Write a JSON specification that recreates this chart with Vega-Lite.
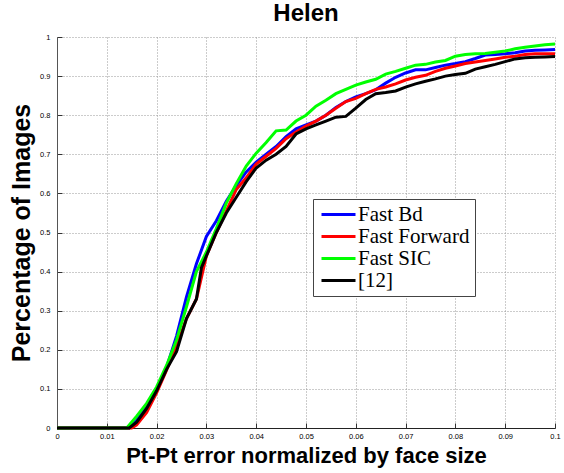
{
  "$schema": "https://vega.github.io/schema/vega-lite/v6.json",
  "width": 498,
  "height": 391,
  "autosize": {"type": "none"},
  "padding": {"left": 57, "top": 37, "right": 9, "bottom": 45},
  "background": "white",
  "title": {"text": "Helen", "font": "Liberation Sans", "fontSize": 24, "fontWeight": "bold", "color": "black", "anchor": "middle", "offset": 7},
  "config": {"view": {"stroke": null}},
  "data": {
    "values": [
      {"s": "Fast Bd", "x": 0, "y": 0}, {"s": "Fast Bd", "x": 0.0145, "y": 0}, {"s": "Fast Bd", "x": 0.016, "y": 0.02}, {"s": "Fast Bd", "x": 0.018, "y": 0.055}, {"s": "Fast Bd", "x": 0.02, "y": 0.1}, {"s": "Fast Bd", "x": 0.022, "y": 0.155}, {"s": "Fast Bd", "x": 0.024, "y": 0.235}, {"s": "Fast Bd", "x": 0.026, "y": 0.335}, {"s": "Fast Bd", "x": 0.028, "y": 0.42}, {"s": "Fast Bd", "x": 0.03, "y": 0.49}, {"s": "Fast Bd", "x": 0.032, "y": 0.53}, {"s": "Fast Bd", "x": 0.034, "y": 0.58}, {"s": "Fast Bd", "x": 0.036, "y": 0.62}, {"s": "Fast Bd", "x": 0.038, "y": 0.655}, {"s": "Fast Bd", "x": 0.04, "y": 0.68}, {"s": "Fast Bd", "x": 0.042, "y": 0.7}, {"s": "Fast Bd", "x": 0.044, "y": 0.72}, {"s": "Fast Bd", "x": 0.046, "y": 0.745}, {"s": "Fast Bd", "x": 0.048, "y": 0.765}, {"s": "Fast Bd", "x": 0.05, "y": 0.775}, {"s": "Fast Bd", "x": 0.052, "y": 0.785}, {"s": "Fast Bd", "x": 0.054, "y": 0.8}, {"s": "Fast Bd", "x": 0.056, "y": 0.82}, {"s": "Fast Bd", "x": 0.058, "y": 0.835}, {"s": "Fast Bd", "x": 0.06, "y": 0.847}, {"s": "Fast Bd", "x": 0.062, "y": 0.855}, {"s": "Fast Bd", "x": 0.064, "y": 0.865}, {"s": "Fast Bd", "x": 0.066, "y": 0.882}, {"s": "Fast Bd", "x": 0.068, "y": 0.897}, {"s": "Fast Bd", "x": 0.07, "y": 0.908}, {"s": "Fast Bd", "x": 0.072, "y": 0.916}, {"s": "Fast Bd", "x": 0.074, "y": 0.916}, {"s": "Fast Bd", "x": 0.076, "y": 0.922}, {"s": "Fast Bd", "x": 0.078, "y": 0.928}, {"s": "Fast Bd", "x": 0.08, "y": 0.932}, {"s": "Fast Bd", "x": 0.082, "y": 0.937}, {"s": "Fast Bd", "x": 0.084, "y": 0.945}, {"s": "Fast Bd", "x": 0.086, "y": 0.954}, {"s": "Fast Bd", "x": 0.088, "y": 0.955}, {"s": "Fast Bd", "x": 0.09, "y": 0.957}, {"s": "Fast Bd", "x": 0.092, "y": 0.96}, {"s": "Fast Bd", "x": 0.094, "y": 0.964}, {"s": "Fast Bd", "x": 0.096, "y": 0.966}, {"s": "Fast Bd", "x": 0.098, "y": 0.967}, {"s": "Fast Bd", "x": 0.1, "y": 0.968},

      {"s": "Fast Forward", "x": 0, "y": 0}, {"s": "Fast Forward", "x": 0.015, "y": 0}, {"s": "Fast Forward", "x": 0.016, "y": 0.008}, {"s": "Fast Forward", "x": 0.018, "y": 0.04}, {"s": "Fast Forward", "x": 0.02, "y": 0.09}, {"s": "Fast Forward", "x": 0.022, "y": 0.148}, {"s": "Fast Forward", "x": 0.024, "y": 0.21}, {"s": "Fast Forward", "x": 0.026, "y": 0.28}, {"s": "Fast Forward", "x": 0.028, "y": 0.33}, {"s": "Fast Forward", "x": 0.03, "y": 0.44}, {"s": "Fast Forward", "x": 0.032, "y": 0.5}, {"s": "Fast Forward", "x": 0.034, "y": 0.555}, {"s": "Fast Forward", "x": 0.036, "y": 0.61}, {"s": "Fast Forward", "x": 0.038, "y": 0.64}, {"s": "Fast Forward", "x": 0.04, "y": 0.675}, {"s": "Fast Forward", "x": 0.042, "y": 0.695}, {"s": "Fast Forward", "x": 0.044, "y": 0.715}, {"s": "Fast Forward", "x": 0.046, "y": 0.74}, {"s": "Fast Forward", "x": 0.048, "y": 0.757}, {"s": "Fast Forward", "x": 0.05, "y": 0.772}, {"s": "Fast Forward", "x": 0.052, "y": 0.785}, {"s": "Fast Forward", "x": 0.054, "y": 0.8}, {"s": "Fast Forward", "x": 0.056, "y": 0.818}, {"s": "Fast Forward", "x": 0.058, "y": 0.835}, {"s": "Fast Forward", "x": 0.06, "y": 0.843}, {"s": "Fast Forward", "x": 0.062, "y": 0.855}, {"s": "Fast Forward", "x": 0.064, "y": 0.866}, {"s": "Fast Forward", "x": 0.066, "y": 0.872}, {"s": "Fast Forward", "x": 0.068, "y": 0.88}, {"s": "Fast Forward", "x": 0.07, "y": 0.89}, {"s": "Fast Forward", "x": 0.072, "y": 0.897}, {"s": "Fast Forward", "x": 0.074, "y": 0.902}, {"s": "Fast Forward", "x": 0.076, "y": 0.912}, {"s": "Fast Forward", "x": 0.078, "y": 0.92}, {"s": "Fast Forward", "x": 0.08, "y": 0.926}, {"s": "Fast Forward", "x": 0.082, "y": 0.932}, {"s": "Fast Forward", "x": 0.084, "y": 0.936}, {"s": "Fast Forward", "x": 0.086, "y": 0.94}, {"s": "Fast Forward", "x": 0.088, "y": 0.944}, {"s": "Fast Forward", "x": 0.09, "y": 0.948}, {"s": "Fast Forward", "x": 0.092, "y": 0.951}, {"s": "Fast Forward", "x": 0.094, "y": 0.955}, {"s": "Fast Forward", "x": 0.096, "y": 0.957}, {"s": "Fast Forward", "x": 0.098, "y": 0.957}, {"s": "Fast Forward", "x": 0.1, "y": 0.957},

      {"s": "Fast SIC", "x": 0, "y": 0}, {"s": "Fast SIC", "x": 0.014, "y": 0}, {"s": "Fast SIC", "x": 0.016, "y": 0.03}, {"s": "Fast SIC", "x": 0.018, "y": 0.063}, {"s": "Fast SIC", "x": 0.02, "y": 0.105}, {"s": "Fast SIC", "x": 0.022, "y": 0.16}, {"s": "Fast SIC", "x": 0.024, "y": 0.225}, {"s": "Fast SIC", "x": 0.026, "y": 0.31}, {"s": "Fast SIC", "x": 0.028, "y": 0.4}, {"s": "Fast SIC", "x": 0.03, "y": 0.45}, {"s": "Fast SIC", "x": 0.032, "y": 0.51}, {"s": "Fast SIC", "x": 0.034, "y": 0.575}, {"s": "Fast SIC", "x": 0.036, "y": 0.625}, {"s": "Fast SIC", "x": 0.038, "y": 0.67}, {"s": "Fast SIC", "x": 0.04, "y": 0.703}, {"s": "Fast SIC", "x": 0.042, "y": 0.73}, {"s": "Fast SIC", "x": 0.044, "y": 0.76}, {"s": "Fast SIC", "x": 0.046, "y": 0.762}, {"s": "Fast SIC", "x": 0.048, "y": 0.785}, {"s": "Fast SIC", "x": 0.05, "y": 0.8}, {"s": "Fast SIC", "x": 0.052, "y": 0.823}, {"s": "Fast SIC", "x": 0.054, "y": 0.838}, {"s": "Fast SIC", "x": 0.056, "y": 0.855}, {"s": "Fast SIC", "x": 0.058, "y": 0.866}, {"s": "Fast SIC", "x": 0.06, "y": 0.877}, {"s": "Fast SIC", "x": 0.062, "y": 0.885}, {"s": "Fast SIC", "x": 0.064, "y": 0.892}, {"s": "Fast SIC", "x": 0.066, "y": 0.905}, {"s": "Fast SIC", "x": 0.068, "y": 0.912}, {"s": "Fast SIC", "x": 0.07, "y": 0.92}, {"s": "Fast SIC", "x": 0.072, "y": 0.928}, {"s": "Fast SIC", "x": 0.074, "y": 0.93}, {"s": "Fast SIC", "x": 0.076, "y": 0.936}, {"s": "Fast SIC", "x": 0.078, "y": 0.94}, {"s": "Fast SIC", "x": 0.08, "y": 0.951}, {"s": "Fast SIC", "x": 0.082, "y": 0.955}, {"s": "Fast SIC", "x": 0.084, "y": 0.957}, {"s": "Fast SIC", "x": 0.086, "y": 0.958}, {"s": "Fast SIC", "x": 0.088, "y": 0.961}, {"s": "Fast SIC", "x": 0.09, "y": 0.964}, {"s": "Fast SIC", "x": 0.092, "y": 0.97}, {"s": "Fast SIC", "x": 0.094, "y": 0.974}, {"s": "Fast SIC", "x": 0.096, "y": 0.977}, {"s": "Fast SIC", "x": 0.098, "y": 0.98}, {"s": "Fast SIC", "x": 0.1, "y": 0.982},

      {"s": "[12]", "x": 0, "y": 0}, {"s": "[12]", "x": 0.0145, "y": 0}, {"s": "[12]", "x": 0.016, "y": 0.015}, {"s": "[12]", "x": 0.018, "y": 0.05}, {"s": "[12]", "x": 0.02, "y": 0.095}, {"s": "[12]", "x": 0.022, "y": 0.15}, {"s": "[12]", "x": 0.024, "y": 0.195}, {"s": "[12]", "x": 0.026, "y": 0.28}, {"s": "[12]", "x": 0.028, "y": 0.33}, {"s": "[12]", "x": 0.029, "y": 0.41}, {"s": "[12]", "x": 0.03, "y": 0.44}, {"s": "[12]", "x": 0.032, "y": 0.5}, {"s": "[12]", "x": 0.034, "y": 0.55}, {"s": "[12]", "x": 0.036, "y": 0.59}, {"s": "[12]", "x": 0.038, "y": 0.63}, {"s": "[12]", "x": 0.04, "y": 0.665}, {"s": "[12]", "x": 0.042, "y": 0.685}, {"s": "[12]", "x": 0.044, "y": 0.7}, {"s": "[12]", "x": 0.046, "y": 0.72}, {"s": "[12]", "x": 0.048, "y": 0.752}, {"s": "[12]", "x": 0.05, "y": 0.765}, {"s": "[12]", "x": 0.052, "y": 0.775}, {"s": "[12]", "x": 0.054, "y": 0.785}, {"s": "[12]", "x": 0.056, "y": 0.795}, {"s": "[12]", "x": 0.058, "y": 0.797}, {"s": "[12]", "x": 0.06, "y": 0.818}, {"s": "[12]", "x": 0.062, "y": 0.84}, {"s": "[12]", "x": 0.064, "y": 0.855}, {"s": "[12]", "x": 0.066, "y": 0.858}, {"s": "[12]", "x": 0.068, "y": 0.862}, {"s": "[12]", "x": 0.07, "y": 0.872}, {"s": "[12]", "x": 0.072, "y": 0.88}, {"s": "[12]", "x": 0.074, "y": 0.887}, {"s": "[12]", "x": 0.076, "y": 0.893}, {"s": "[12]", "x": 0.078, "y": 0.9}, {"s": "[12]", "x": 0.08, "y": 0.904}, {"s": "[12]", "x": 0.082, "y": 0.907}, {"s": "[12]", "x": 0.084, "y": 0.918}, {"s": "[12]", "x": 0.086, "y": 0.924}, {"s": "[12]", "x": 0.088, "y": 0.93}, {"s": "[12]", "x": 0.09, "y": 0.937}, {"s": "[12]", "x": 0.092, "y": 0.944}, {"s": "[12]", "x": 0.094, "y": 0.947}, {"s": "[12]", "x": 0.096, "y": 0.948}, {"s": "[12]", "x": 0.098, "y": 0.949}, {"s": "[12]", "x": 0.1, "y": 0.95}
    ]
  },
  "mark": {"type": "line", "strokeWidth": 3, "interpolate": "linear"},
  "encoding": {
    "x": {
      "field": "x", "type": "quantitative",
      "scale": {"domain": [0, 0.1], "nice": false, "zero": false},
      "axis": {
        "values": [0, 0.01, 0.02, 0.03, 0.04, 0.05, 0.06, 0.07, 0.08, 0.09, 0.1],
        "format": "~g",
        "labelFont": "Liberation Sans", "labelFontSize": 7.5, "labelColor": "black",
        "tickSize": -5, "tickColor": "#333", "labelPadding": 9,
        "domainColor": "#222", "domainWidth": 1,
        "grid": true, "gridDash": [1, 2], "gridColor": "#999", "gridWidth": 1,
        "labelFlush": false,
        "title": "Pt-Pt error normalized by face size",
        "titleFont": "Liberation Sans", "titleFontSize": 22, "titleFontWeight": "bold", "titleColor": "black", "titlePadding": 6
      }
    },
    "y": {
      "field": "y", "type": "quantitative",
      "scale": {"domain": [0, 1], "nice": false, "zero": false},
      "axis": {
        "values": [0, 0.1, 0.2, 0.3, 0.4, 0.5, 0.6, 0.7, 0.8, 0.9, 1],
        "format": "~g",
        "labelFont": "Liberation Sans", "labelFontSize": 7.5, "labelColor": "black",
        "tickSize": -5, "tickColor": "#333", "labelPadding": 12,
        "domainColor": "#555", "domainWidth": 1,
        "grid": true, "gridDash": [1, 2], "gridColor": "#999", "gridWidth": 1,
        "labelFlush": false,
        "title": "Percentage of Images",
        "titleFont": "Liberation Sans", "titleFontSize": 25, "titleFontWeight": "bold", "titleColor": "black", "titlePadding": 5
      }
    },
    "color": {
      "field": "s", "type": "nominal",
      "scale": {"domain": ["Fast Bd", "Fast Forward", "Fast SIC", "[12]"], "range": ["#0000ff", "#ff0000", "#00ff00", "#000000"]},
      "legend": {
        "title": null, "orient": "none", "legendX": 256, "legendY": 162,
        "strokeColor": "#444", "fillColor": "white", "padding": 5,
        "symbolType": "M-2,0H2", "symbolSize": 289, "symbolStrokeWidth": 3, "symbolOffset": 10,
        "labelFont": "Liberation Serif", "labelFontSize": 21, "labelColor": "black", "labelOffset": 9,
        "rowPadding": 0
      }
    }
  }
}
